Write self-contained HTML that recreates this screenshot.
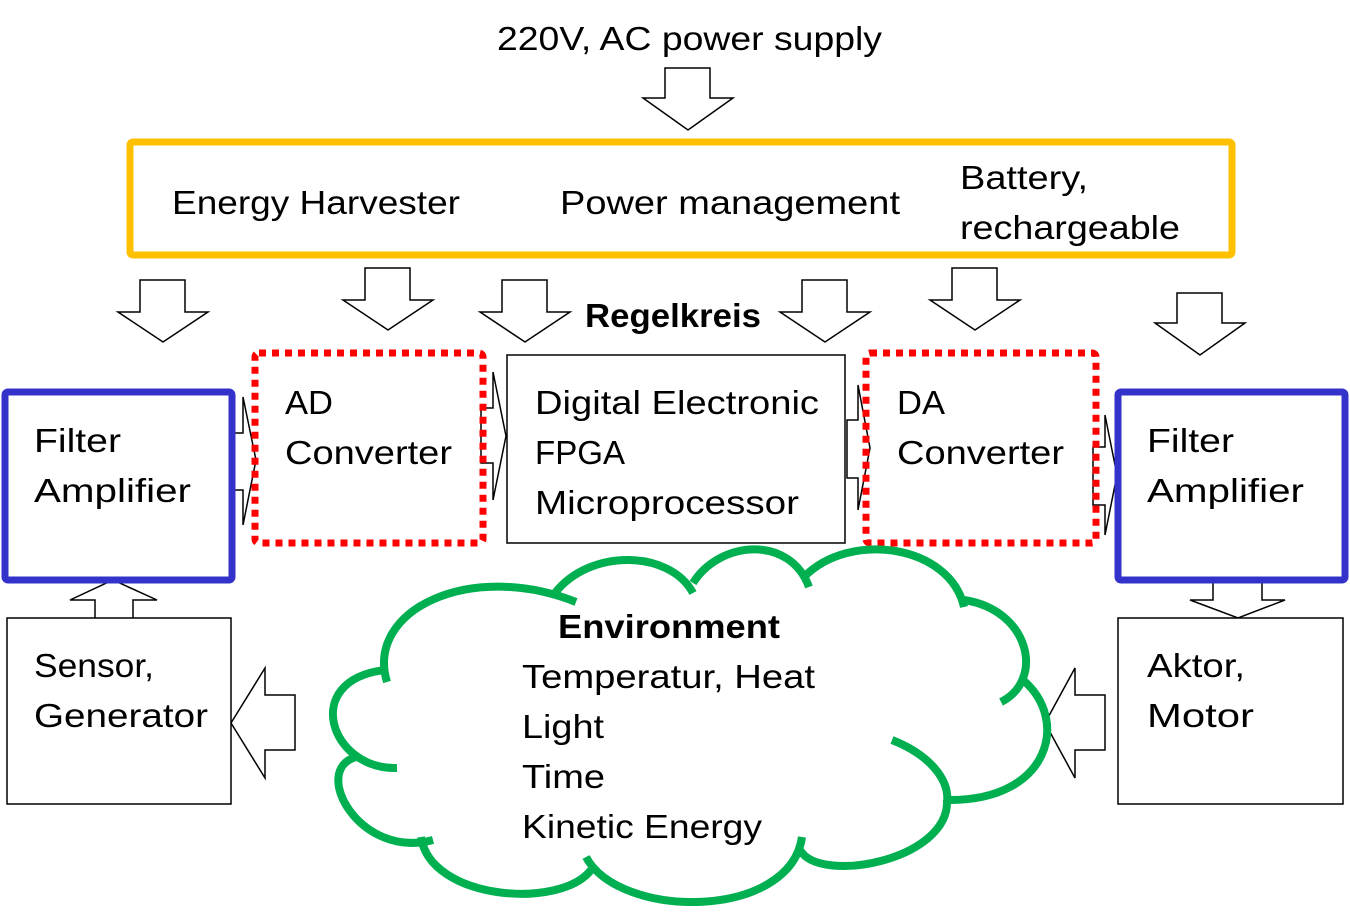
<!DOCTYPE html>
<html><head><meta charset="utf-8"><style>html,body{margin:0;padding:0;background:#fff}svg{display:block}text{font-family:"Liberation Sans",sans-serif;font-size:33px;fill:#000}</style></head><body>
<svg width="1350" height="912" viewBox="0 0 1350 912" xmlns="http://www.w3.org/2000/svg">
<g fill="#fff" stroke="#000" stroke-width="1.5" stroke-linejoin="miter">
<path d="M665,68 H710 V98 H733 L688,130 L643,98 H665 Z"/>
<path d="M140,280 H185 V312 H208 L163,342 L118,312 H140 Z"/>
<path d="M365,268 H410 V300 H433 L388,330 L343,300 H365 Z"/>
<path d="M502,280 H547 V312 H570 L525,342 L480,312 H502 Z"/>
<path d="M802,280 H847 V312 H870 L825,342 L780,312 H802 Z"/>
<path d="M952,268 H997 V300 H1020 L975,330 L930,300 H952 Z"/>
<path d="M1177,293 H1222 V323 H1245 L1200,355 L1155,323 H1177 Z"/>
<path d="M1213,578 H1262 V600 H1285 L1238,618 L1190,600 H1213 Z"/>
<path d="M95,618 V600 H70 L113,580 L157,600 H133 V618"/>
<path d="M295,695 V750 H265 V778 L231,723 L265,668 V695 Z"/>
<path d="M1105,695 V750 H1075 V778 L1045,723 L1075,668 V695 Z"/>
<path d="M231,433 H243 V397 L256,460 L243,525 V490 H231 Z"/>
<path d="M481,408 H493 V372 L506,436 L493,500 V463 H481 Z"/>
<path d="M847,420 H858 V385 L870,448 L858,510 V478 H847 Z"/>
<path d="M1093,447 H1105 V415 L1117,475 L1105,535 V505 H1093 Z"/>
</g>
<rect x="130" y="142" width="1102" height="113" rx="3" fill="none" stroke="#ffc000" stroke-width="7"/>
<rect x="5" y="392" width="227" height="188" rx="3" fill="none" stroke="#3333cc" stroke-width="7"/>
<rect x="1118" y="392" width="227" height="188" rx="3" fill="none" stroke="#3333cc" stroke-width="7"/>
<rect x="255" y="353" width="228" height="190" rx="4" fill="none" stroke="#ff0000" stroke-width="7" stroke-dasharray="7,6"/>
<rect x="866" y="353" width="230" height="190" rx="4" fill="none" stroke="#ff0000" stroke-width="7" stroke-dasharray="7,6"/>
<rect x="507" y="355" width="338" height="188" fill="#fff" stroke="#000" stroke-width="1.5"/>
<rect x="7" y="618" width="224" height="186" fill="#fff" stroke="#000" stroke-width="1.5"/>
<rect x="1118" y="618" width="225" height="186" fill="#fff" stroke="#000" stroke-width="1.5"/>
<g fill="none" stroke="#00b050" stroke-width="8">
<path d="M387,682 C365,610 470,560 576,602"/>
<path d="M555,593 C590,548 670,550 693,593"/>
<path d="M693,583 C720,540 790,535 809,587"/>
<path d="M804,577 C850,530 950,545 964,607"/>
<path d="M964,600 C1030,610 1045,680 1001,702"/>
<path d="M1023,680 C1070,720 1050,800 950,800"/>
<path d="M892,740 C930,755 950,780 947,803"/>
<path d="M947,800 C950,860 820,885 800,850"/>
<path d="M802,837 C790,920 620,920 586,857"/>
<path d="M591,870 C560,910 430,900 421,837"/>
<path d="M433,840 C360,860 310,770 356,757"/>
<path d="M397,768 C330,770 300,680 385,670"/>
</g>
<text x="497" y="50" textLength="385" lengthAdjust="spacingAndGlyphs">220V, AC power supply</text>
<text x="172" y="214" textLength="288" lengthAdjust="spacingAndGlyphs">Energy Harvester</text>
<text x="560" y="214" textLength="340" lengthAdjust="spacingAndGlyphs">Power management</text>
<text x="960" y="189" textLength="128" lengthAdjust="spacingAndGlyphs">Battery,</text>
<text x="960" y="239" textLength="220" lengthAdjust="spacingAndGlyphs">rechargeable</text>
<text x="585" y="327" font-weight="bold" textLength="176" lengthAdjust="spacingAndGlyphs">Regelkreis</text>
<text x="34" y="452" textLength="87" lengthAdjust="spacingAndGlyphs">Filter</text>
<text x="34" y="502" textLength="157" lengthAdjust="spacingAndGlyphs">Amplifier</text>
<text x="285" y="414" textLength="48" lengthAdjust="spacingAndGlyphs">AD</text>
<text x="285" y="464" textLength="167" lengthAdjust="spacingAndGlyphs">Converter</text>
<text x="535" y="414" textLength="284" lengthAdjust="spacingAndGlyphs">Digital Electronic</text>
<text x="535" y="464" textLength="90" lengthAdjust="spacingAndGlyphs">FPGA</text>
<text x="535" y="514" textLength="264" lengthAdjust="spacingAndGlyphs">Microprocessor</text>
<text x="897" y="414" textLength="48" lengthAdjust="spacingAndGlyphs">DA</text>
<text x="897" y="464" textLength="167" lengthAdjust="spacingAndGlyphs">Converter</text>
<text x="1147" y="452" textLength="87" lengthAdjust="spacingAndGlyphs">Filter</text>
<text x="1147" y="502" textLength="157" lengthAdjust="spacingAndGlyphs">Amplifier</text>
<text x="34" y="677" textLength="120" lengthAdjust="spacingAndGlyphs">Sensor,</text>
<text x="34" y="727" textLength="174" lengthAdjust="spacingAndGlyphs">Generator</text>
<text x="1147" y="677" textLength="98" lengthAdjust="spacingAndGlyphs">Aktor,</text>
<text x="1147" y="727" textLength="107" lengthAdjust="spacingAndGlyphs">Motor</text>
<text x="558" y="638" font-weight="bold" textLength="222" lengthAdjust="spacingAndGlyphs">Environment</text>
<text x="522" y="688" textLength="293" lengthAdjust="spacingAndGlyphs">Temperatur, Heat</text>
<text x="522" y="738" textLength="82" lengthAdjust="spacingAndGlyphs">Light</text>
<text x="522" y="788" textLength="83" lengthAdjust="spacingAndGlyphs">Time</text>
<text x="522" y="838" textLength="240" lengthAdjust="spacingAndGlyphs">Kinetic Energy</text>
</svg>
</body></html>
